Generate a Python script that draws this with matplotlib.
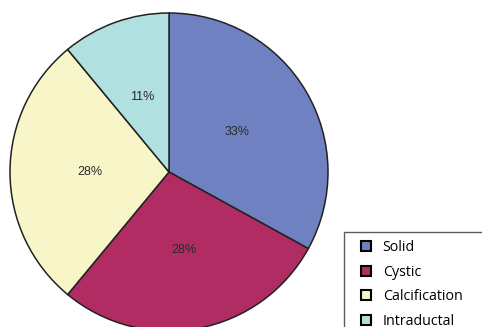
import matplotlib.pyplot as plt
from matplotlib.lines import Line2D

categories = ['Solid', 'Cystic', 'Calcification', 'Intraductal']
shares = [33, 28, 28, 11]
colors = ['#7081c2', '#b02c62', '#f8f6c8', '#b0e0e0']

fig = plt.figure(figsize=(4.82, 3.27), dpi=100)
W, H = 482, 327
cx, cy, r = 169, 172, 159
ax = fig.add_axes([(cx - r) / W, (H - cy - r) / H, 2 * r / W, 2 * r / H])

wedges, texts, autotexts = ax.pie(
    shares, colors=colors, startangle=90, counterclock=False,
    autopct='%d%%', pctdistance=0.5,
    wedgeprops=dict(edgecolor='#222222', linewidth=1.1),
    textprops=dict(fontsize=9, family='Liberation Sans', color='#2a2a2a'))
ax.set_xlim(-1, 1)
ax.set_ylim(-1, 1)

handles = [Line2D([], [], marker='s', linestyle='none', markersize=6.5,
                  markerfacecolor=c, markeredgecolor='black', markeredgewidth=1.5)
           for c in colors]
leg = fig.legend(handles, categories, loc='upper left',
                 bbox_to_anchor=(344 / W, 0, 150 / W, 1 - 232 / H), mode='expand',
                 prop=dict(family='Open Sans', size=10.3),
                 frameon=True, fancybox=False, borderpad=0.55,
                 handlelength=2.0, handletextpad=0.15, labelspacing=0.68,
                 borderaxespad=0)
leg.get_frame().set_edgecolor('#333333')
leg.get_frame().set_linewidth(1.0)

fig.savefig('out.png', dpi=100)
